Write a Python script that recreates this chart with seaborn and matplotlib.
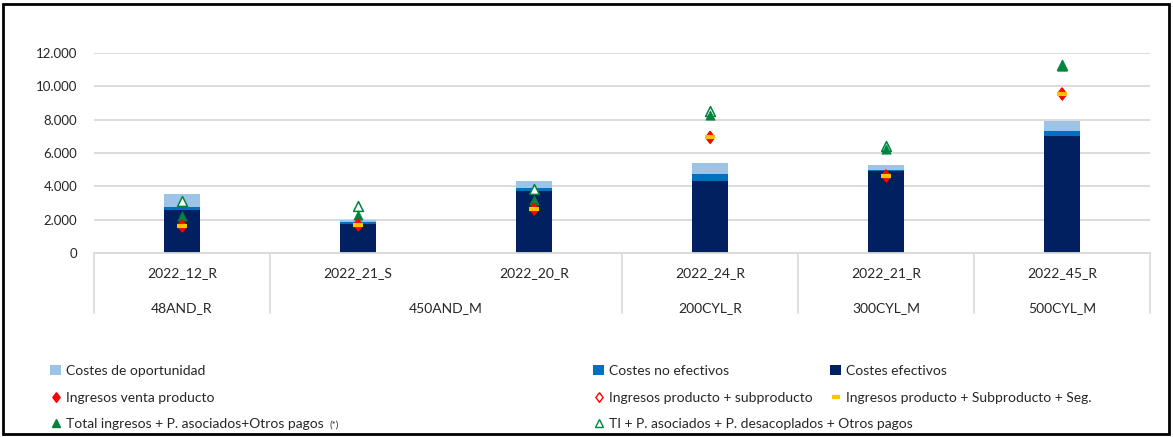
import numpy as np
import pandas as pd
import matplotlib
matplotlib.use("Agg")
import matplotlib.pyplot as plt
import seaborn as sns
from matplotlib.lines import Line2D
from matplotlib.patches import Patch, Rectangle
from matplotlib.transforms import blended_transform_factory, IdentityTransform
from matplotlib.ticker import FuncFormatter

# ---- data ----
categories = ["2022_12_R", "2022_21_S", "2022_20_R", "2022_24_R", "2022_21_R", "2022_45_R"]
groups = ["48AND_R", "450AND_M", "450AND_M", "200CYL_R", "300CYL_M", "500CYL_M"]
costes_efectivos = [2600, 1740, 3720, 4300, 4900, 7000]
costes_no_efectivos = [160, 100, 200, 440, 100, 300]
costes_oportunidad = [800, 120, 380, 660, 300, 600]
ingresos_venta = [1640, 1700, 2640, 6940, 4640, 9560]
ingresos_prod_sub = [1640, 1700, 2640, 6940, 4640, 9560]
ingresos_prod_sub_seg = [1640, 1700, 2640, 6940, 4640, 9560]
total_ingresos = [2240, 2300, 3200, 8300, 6250, 11200]
ti_desacoplados = [3100, 2800, 3840, 8500, 6400, 11300]
yticks = [0, 2000, 4000, 6000, 8000, 10000, 12000]

C_DARK = "#002060"
C_MID = "#0070C0"
C_LIGHT = "#9DC3E6"
C_RED = "#FF0000"
C_YEL = "#FFC000"
C_GRN = "#00843D"

DIAMOND = [(0, 1), (0.75, 0), (0, -1), (-0.75, 0), (0, 1)]

sns.set_style("white")
plt.rcParams["font.family"] = ["Lato", "DejaVu Sans"]

fig = plt.figure(figsize=(11.73, 4.37), dpi=100)
ax = fig.add_axes([94 / 1173, 1 - 253 / 437, (1150 - 94) / 1173, 200 / 437])

df = pd.DataFrame({
    "cat": categories,
    "ef": costes_efectivos,
    "noef": np.add(costes_efectivos, costes_no_efectivos),
    "op": np.add(np.add(costes_efectivos, costes_no_efectivos), costes_oportunidad),
})

bw = 0.21
sns.barplot(data=df, x="cat", y="op", color=C_LIGHT, width=bw, saturation=1, ax=ax,
            edgecolor="none", zorder=2)
sns.barplot(data=df, x="cat", y="noef", color=C_MID, width=bw, saturation=1, ax=ax,
            edgecolor="none", zorder=2)
sns.barplot(data=df, x="cat", y="ef", color=C_DARK, width=bw, saturation=1, ax=ax,
            edgecolor="none", zorder=2)

xpos = np.arange(len(categories))
sns.scatterplot(x=xpos, y=ti_desacoplados, marker="^", s=50, facecolor="white",
                edgecolor=C_GRN, linewidth=1.1, ax=ax, zorder=4)
sns.scatterplot(x=xpos, y=total_ingresos, marker="^", s=45, color=C_GRN,
                edgecolor=C_GRN, linewidth=0.5, ax=ax, zorder=5)
sns.scatterplot(x=xpos, y=ingresos_venta, marker=DIAMOND, s=72, color=C_RED,
                edgecolor=C_RED, linewidth=0.5, ax=ax, zorder=5)
sns.scatterplot(x=xpos, y=ingresos_prod_sub, marker=DIAMOND, s=72, facecolor="none",
                edgecolor=C_RED, linewidth=1, ax=ax, zorder=6)
ax.plot(xpos, ingresos_prod_sub_seg, linestyle="none", marker="_", markersize=7.5,
        markeredgewidth=3, color=C_YEL, zorder=7)

ax.set_ylim(0, 12000)
ax.set_xlim(-0.5, len(categories) - 0.5)
ax.set_yticks(yticks)
ax.yaxis.set_major_formatter(FuncFormatter(lambda v, p: f"{int(v):,}".replace(",", ".")))
ax.grid(axis="y", color="#D9D9D9", linewidth=1.3, zorder=0)
ax.set_axisbelow(True)
for s in ["top", "right", "left"]:
    ax.spines[s].set_visible(False)
ax.spines["bottom"].set_color("#D9D9D9")
ax.spines["bottom"].set_linewidth(1.3)
ax.tick_params(axis="y", length=0, labelsize=9.5, pad=12)
ax.set_xticks([])
ax.set_xlabel("")
ax.set_ylabel("")

# two-level category axis
tr = blended_transform_factory(ax.transData, ax.transAxes)
for i, c in enumerate(categories):
    ax.text(i, -0.10, c, transform=tr, ha="center", va="center", fontsize=10)
bounds = [-0.5]
spans = []
start = 0
for i in range(1, len(groups) + 1):
    if i == len(groups) or groups[i] != groups[start]:
        spans.append((start, i - 1, groups[start]))
        bounds.append(i - 0.5)
        start = i
for a, b, g in spans:
    ax.text((a + b) / 2, -0.275, g, transform=tr, ha="center", va="center", fontsize=10)
for bx in bounds:
    ax.plot([bx, bx], [0, -0.30], transform=tr, color="#D9D9D9", linewidth=1.2, clip_on=False)

# legends
h_op = Patch(facecolor=C_LIGHT, edgecolor="none")
h_noef = Patch(facecolor=C_MID, edgecolor="none")
h_ef = Patch(facecolor=C_DARK, edgecolor="none")
h_iv = Line2D([], [], linestyle="none", marker=DIAMOND, markersize=7, color=C_RED)
h_ips = Line2D([], [], linestyle="none", marker=DIAMOND, markersize=7, markerfacecolor="white",
               markeredgecolor=C_RED, markeredgewidth=1)
h_seg = Line2D([], [], linestyle="none", marker="_", markersize=6, markeredgewidth=3, color=C_YEL)
h_ti = Line2D([], [], linestyle="none", marker="^", markersize=5.5, color=C_GRN)
h_tid = Line2D([], [], linestyle="none", marker="^", markersize=6, markerfacecolor="white",
               markeredgecolor=C_GRN, markeredgewidth=1)

cols = [
    ([h_op, h_iv, h_ti], ["Costes de oportunidad", "Ingresos venta producto",
                          "Total ingresos + P. asociados+Otros pagos"], 50),
    ([h_noef, h_ips, h_tid], ["Costes no efectivos", "Ingresos producto + subproducto",
                              "TI + P. asociados + P. desacoplados + Otros pagos"], 593),
    ([h_ef, h_seg], ["Costes efectivos", "Ingresos producto + Subproducto + Seg."], 830),
]
legs = []
for hs, ls, x0 in cols:
    legs.append(fig.legend(hs, ls, loc="upper left", bbox_to_anchor=(x0 / 1173, 1 - 365 / 437),
                           frameon=False, fontsize=10, handlelength=0.8, handletextpad=0.35,
                           labelspacing=1.05, borderpad=0, borderaxespad=0))

fig.canvas.draw()
tb = legs[0].get_texts()[2].get_window_extent()
fig.text(tb.x1 + 6, tb.y1 - 2, "(*)", fontsize=7, ha="left", va="top",
         transform=IdentityTransform())

fig.patches.append(Rectangle((3 / 1173, 3 / 437), 1166 / 1173, 430 / 437, transform=fig.transFigure,
                             fill=False, edgecolor="black", linewidth=2))

fig.savefig("out.png", dpi=100)
